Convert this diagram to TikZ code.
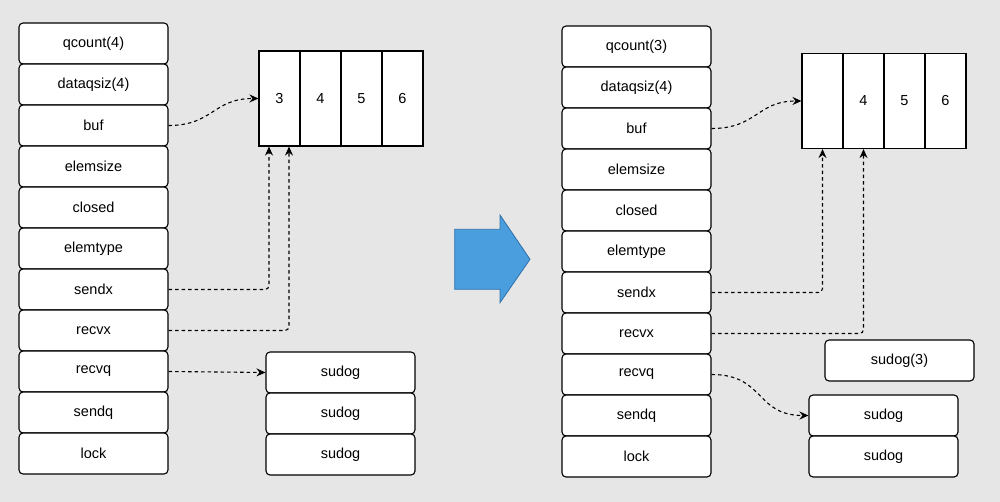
\documentclass[tikz,border=0pt]{standalone}
\usepackage{fontspec}
\setmainfont{Liberation Sans}
\usetikzlibrary{arrows.meta}

\definecolor{bggray}{HTML}{E6E6E6}
\definecolor{arrowblue}{HTML}{4A9EDD}
\definecolor{arrowedge}{HTML}{2F6FAA}

\begin{document}
\begin{tikzpicture}[x=1pt, y=-1pt,
    field/.style={draw, fill=white, rounded corners=4pt, line width=1.1pt,
        minimum width=149pt, minimum height=41pt, inner sep=0pt,
        font=\fontsize{14.5}{16}\selectfont},
    cell/.style={draw, fill=white, line width=1.1pt, minimum width=41pt,
        minimum height=95pt, inner sep=0pt, font=\fontsize{14.5}{16}\selectfont},
    link/.style={dash pattern=on 3.5pt off 3pt, line width=1.1pt,
        -{Stealth[length=9pt,width=8pt,inset=3pt]}}]
    \fill[bggray] (0,0) rectangle (1000,502);

    \foreach \t/\n [count=\i] in {qcount(4)/lqcount, dataqsiz(4)/ldataqsiz, buf/lbuf,
        elemsize/lelemsize, closed/lclosed, elemtype/lelemtype, sendx/lsendx,
        recvx/lrecvx, recvq/lrecvq, sendq/lsendq, lock/llock}
	\node[field] (\n) at (93.5, {2.5+41*\i}) {\t};
    \foreach \v [count=\i] in {3,4,5,6}
	\node[cell] (lc\i) at ({238.5+41*\i}, 98.5) {\v};
    \foreach \i in {1,2,3}
	\node[field] (ls\i) at (340.5, {331.5+41*\i}) {sudog};

    \draw[link] (lbuf.east) .. controls (213,125.5) and (213,98.5) .. (lc1.west);
    \draw[link, rounded corners=4pt] (lsendx.east) -| ([xshift=-10.5pt]lc1.south);
    \draw[link, rounded corners=4pt] (lrecvx.east) -| ([xshift=9.5pt]lc1.south);
    \draw[link] (lrecvq.east) -- (ls1.west);

    \draw[arrowedge, fill=arrowblue, line width=0.8pt] (454.7,229.3) -- (500,229.3)
        -- (500,215) -- (530,259.3) -- (500,302.7) -- (500,289.3) -- (454.7,289.3) -- cycle;

    \foreach \t/\n [count=\i] in {qcount(3)/rqcount, dataqsiz(4)/rdataqsiz, buf/rbuf,
        elemsize/relemsize, closed/rclosed, elemtype/relemtype, sendx/rsendx,
        recvx/rrecvx, recvq/rrecvq, sendq/rsendq, lock/rlock}
	\node[field] (\n) at (636.5, {5.5+41*\i}) {\t};
    \foreach \v [count=\i] in {{},4,5,6}
	\node[cell] (rc\i) at ({781.5+41*\i}, 101) {\v};
    \node[field] (rtaken) at (899.5, 360.5) {sudog(3)};
    \foreach \i in {1,2}
	\node[field] (rs\i) at (883.5, {374.5+41*\i}) {sudog};

    \draw[link] (rbuf.east) .. controls (757,128.5) and (757,101) .. (rc1.west);
    \draw[link, rounded corners=4pt] (rsendx.east) -| (rc1.south);
    \draw[link, rounded corners=4pt] (rrecvx.east) -| (rc2.south);
    \draw[link] (rrecvq.east) .. controls (765,374.5) and (755,415.5) .. (rs1.west);
\end{tikzpicture}
\end{document}
